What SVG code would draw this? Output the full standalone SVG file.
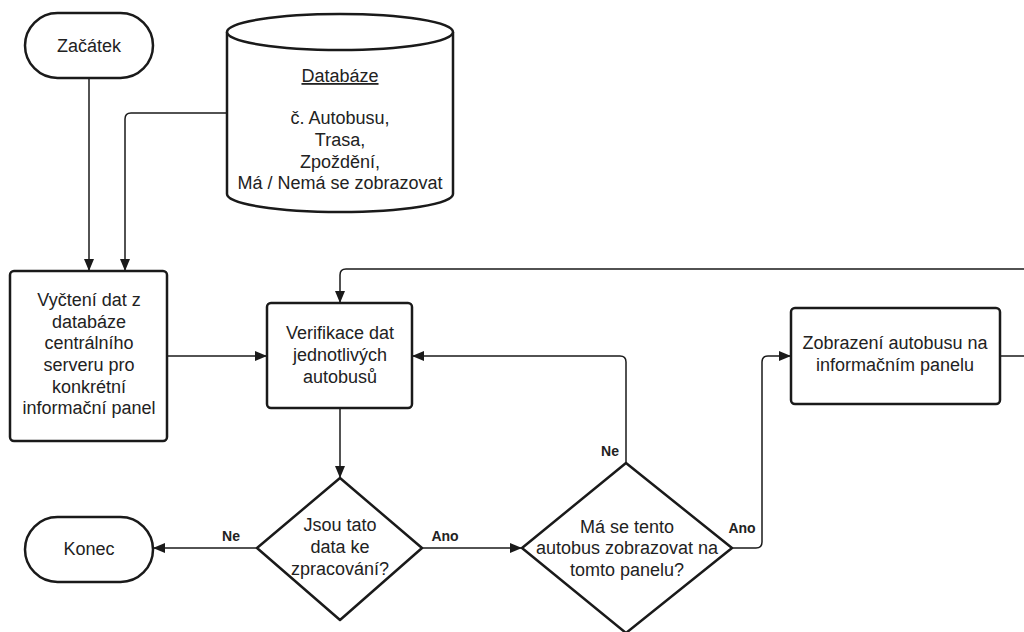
<svg xmlns="http://www.w3.org/2000/svg" width="1024" height="632" viewBox="0 0 1024 632">
<defs>
<style>
.shape{fill:#fff;stroke:#1a1a1a;stroke-width:2.5;stroke-linejoin:round}
.conn{fill:none;stroke:#1a1a1a;stroke-width:1.5}
.t{font-family:"Liberation Sans",Arial,sans-serif;font-size:18px;fill:#222;text-anchor:middle}
.lbl{font-family:"Liberation Sans",Arial,sans-serif;font-size:14px;font-weight:bold;fill:#222;text-anchor:middle}
</style>
<marker id="arr" markerUnits="userSpaceOnUse" markerWidth="13" markerHeight="11" refX="12" refY="5" orient="auto">
<path d="M0,0 L12,5 L0,10 Z" fill="#1a1a1a"/>
</marker>
</defs>
<rect width="1024" height="632" fill="#fff"/>
<g id="connectors">
<path class="conn" d="M89,78 V271" marker-end="url(#arr)"/>
<path class="conn" d="M227,113 H131 Q125,113 125,119 V271" marker-end="url(#arr)"/>
<path class="conn" d="M167,356 H267" marker-end="url(#arr)"/>
<path class="conn" d="M340,408 V478" marker-end="url(#arr)"/>
<path class="conn" d="M257,548 H153" marker-end="url(#arr)"/>
<path class="conn" d="M422,548 H522" marker-end="url(#arr)"/>
<path class="conn" d="M626,463 V362 Q626,356 620,356 H412" marker-end="url(#arr)"/>
<path class="conn" d="M732,548 H756 Q762,548 762,542 V362 Q762,356 768,356 H791" marker-end="url(#arr)"/>
<path class="conn" d="M1000,356 H1040 V269 H346 Q340,269 340,275 V303" marker-end="url(#arr)"/>
<text class="lbl" x="231" y="541">Ne</text>
<text class="lbl" x="445" y="541">Ano</text>
<text class="lbl" x="610" y="456">Ne</text>
<text class="lbl" x="742" y="533">Ano</text>
</g>
<g id="start">
<rect class="shape" x="25" y="13" width="128" height="65" rx="32.5"/>
<text class="t" x="89" y="52">Začátek</text>
</g>
<g id="database">
<path class="shape" d="M227,32 V194 A113,18 0 0 0 453,194 V32 A113,18 0 0 0 227,32 Z"/>
<path class="shape" fill="none" d="M227,32 A113,18 0 0 0 453,32"/>
<text class="t" x="340" y="82" text-decoration="underline">Databáze</text>
<text class="t" x="340" y="124">č. Autobusu,</text>
<text class="t" x="340" y="146">Trasa,</text>
<text class="t" x="340" y="168">Zpoždění,</text>
<text class="t" x="340" y="189">Má / Nemá se zobrazovat</text>
</g>
<g id="read">
<rect class="shape" x="10" y="271" width="157" height="170" rx="4"/>
<text class="t" x="89" y="306">Vyčtení dat z</text>
<text class="t" x="89" y="328">databáze</text>
<text class="t" x="89" y="349">centrálního</text>
<text class="t" x="89" y="371">serveru pro</text>
<text class="t" x="89" y="393">konkrétní</text>
<text class="t" x="89" y="414">informační panel</text>
</g>
<g id="verify">
<rect class="shape" x="267" y="303" width="145" height="105" rx="4"/>
<text class="t" x="340" y="339">Verifikace dat</text>
<text class="t" x="340" y="361">jednotlivých</text>
<text class="t" x="340" y="383">autobusů</text>
</g>
<g id="decision1">
<path class="shape" d="M340,478 L422,548 L340,620 L257,548 Z"/>
<text class="t" x="340" y="531">Jsou tato</text>
<text class="t" x="340" y="553">data ke</text>
<text class="t" x="340" y="575">zpracování?</text>
</g>
<g id="end">
<rect class="shape" x="25" y="517" width="128" height="65" rx="32.5"/>
<text class="t" x="89" y="555">Konec</text>
</g>
<g id="decision2">
<path class="shape" d="M626,463 L732,548 L626,633 L522,548 Z"/>
<text class="t" x="627" y="533">Má se tento</text>
<text class="t" x="627" y="554">autobus zobrazovat na</text>
<text class="t" x="627" y="576">tomto panelu?</text>
</g>
<g id="display">
<rect class="shape" x="791" y="308" width="209" height="96" rx="4"/>
<text class="t" x="895" y="349">Zobrazení autobusu na</text>
<text class="t" x="895" y="371">informačním panelu</text>
</g>
</svg>
